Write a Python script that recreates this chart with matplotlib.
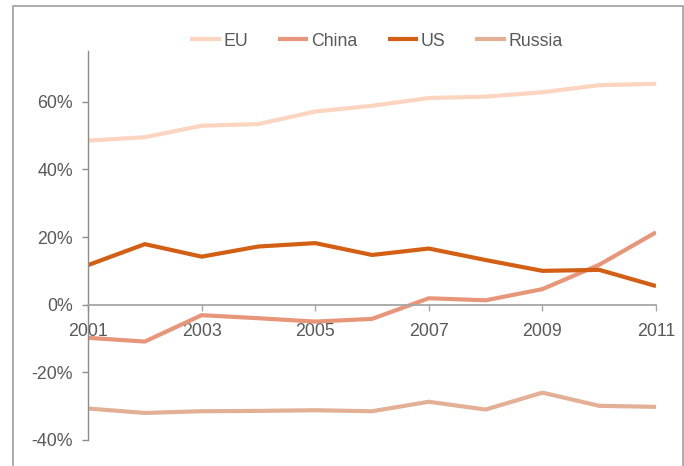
import matplotlib.pyplot as plt
from matplotlib.patches import Rectangle

years = [2001, 2002, 2003, 2004, 2005, 2006, 2007, 2008, 2009, 2010, 2011]
eu = [48.5, 49.5, 52.9, 53.4, 57.1, 58.8, 61.1, 61.5, 62.8, 64.9, 65.3]
china = [-9.8, -10.9, -3.1, -4.0, -5.0, -4.2, 1.9, 1.3, 4.6, 11.8, 21.4]
us = [11.7, 17.9, 14.2, 17.2, 18.2, 14.7, 16.6, 13.2, 10.0, 10.3, 5.5]
russia = [-30.7, -32.0, -31.5, -31.4, -31.2, -31.5, -28.7, -31.0, -26.0, -29.9, -30.2]

series = ["EU", "China", "US", "Russia"]
colors = ["#FCD5C0", "#E8967A", "#D35F14", "#E3B096"]

yticks = [-40, -20, 0, 20, 40, 60]
ytick_labels = ["-40%", "-20%", "0%", "20%", "40%", "60%"]
xticks = [2001, 2003, 2005, 2007, 2009, 2011]

plt.rcParams['font.family'] = ['Liberation Sans', 'DejaVu Sans']
textColor = '#595959'
axisColor = '#A6A6A6'

fig = plt.figure(figsize=(6.84, 4.66), dpi=100)
ax = fig.add_axes([0.1287, 0.0558, 0.8304, 0.8348])

for name, vals, c in zip(series, [eu, china, us, russia], colors):
    ax.plot(years, vals, color=c, lw=3, label=name, solid_capstyle='butt')

ax.set_xlim(2001, 2011)
ax.set_ylim(-40, 75)
ax.set_yticks(yticks)
ax.set_yticklabels(ytick_labels)
ax.set_xticks(xticks)

ax.spines['top'].set_visible(False)
ax.spines['right'].set_visible(False)
ax.spines['bottom'].set_position(('data', 0))
ax.spines['bottom'].set_color(axisColor)
ax.spines['left'].set_color('#8C8C8C')
ax.spines['bottom'].set_linewidth(1.3)
ax.spines['left'].set_linewidth(1.0)

ax.tick_params(axis='y', length=4, width=1, color='#8C8C8C', pad=7,
               labelsize=12.8, labelcolor=textColor)
ax.tick_params(axis='x', length=4.5, width=1, color=axisColor, pad=9,
               labelsize=12.8, labelcolor=textColor)

leg = fig.legend(loc='center', bbox_to_anchor=(376.5 / 684, 1 - 41 / 466),
                 ncol=4, frameon=False, fontsize=12.8, handlelength=1.7,
                 handletextpad=0.15, columnspacing=1.7)
for t in leg.get_texts():
    t.set_color(textColor)

# outer frame, open at the bottom
frame = Rectangle((12.5 / 684, -0.1), (683 - 12.5) / 684, 1.1 - 6 / 466,
                  transform=fig.transFigure, fill=False,
                  edgecolor=axisColor, lw=1.3)
fig.patches.append(frame)

fig.savefig('out.png', dpi=100)
